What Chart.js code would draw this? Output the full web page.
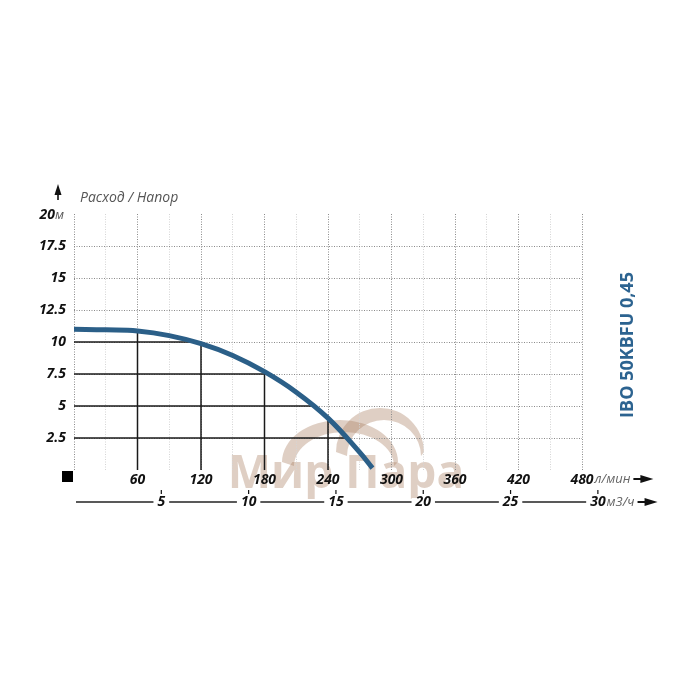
<!DOCTYPE html>
<html>
<head>
<meta charset="utf-8">
<script src="https://cdn.jsdelivr.net/npm/chart.js@4.4.1/dist/chart.umd.min.js"></script>
<style>
  html, body { margin: 0; padding: 0; background: #fff; }
  canvas { display: block; }
</style>
</head>
<body>
<canvas id="pumpChart" width="700" height="700"></canvas>
<script>
// pump curve, flow in l/min, head in m
const flowLpm = [0, 30, 60, 90, 120, 150, 180, 210, 240, 270, 282];
const headM = [11.0, 10.95, 10.86, 10.5, 9.87, 8.95, 7.68, 6.08, 4.05, 1.38, 0.15];

// solid lines under the curve
const dropFlow = [60, 120, 180, 240];
const dropHead = [10.86, 9.87, 7.68, 4.05];
const levelHead = [2.5, 5, 7.5, 10];
const levelFlow = [257, 228, 184, 112];

// tick labels
const lpmTicks = [60, 120, 180, 240, 300, 360, 420, 480];
const headTicks = [2.5, 5, 7.5, 10, 12.5, 15, 17.5];
const m3hTicks = [5, 10, 15, 20, 25, 30];
const m3hToLpm = 16.5;

const modelName = 'IBO 50KBFU 0,45';
const axisTitle = 'Расход / Напор';

const curveColor = '#2b5f88';
const tickFont = { family: 'Open Sans', size: 14, weight: 'bold', style: 'italic' };

function drawArrow(ctx, x, y) {
    ctx.strokeStyle = '#111';
    ctx.fillStyle = '#111';
    ctx.lineWidth = 2;
    ctx.beginPath();
    ctx.moveTo(x, y);
    ctx.lineTo(x + 10, y);
    ctx.stroke();
    ctx.beginPath();
    ctx.moveTo(x + 7, y - 4);
    ctx.lineTo(x + 20, y);
    ctx.lineTo(x + 7, y + 4);
    ctx.closePath();
    ctx.fill();
}

const watermark = {
    id: 'watermark',
    beforeDraw(chart) {
        const ctx = chart.ctx;
        ctx.save();
        ctx.fillStyle = 'rgba(170, 130, 100, 0.38)';
        // two arches
        ctx.beginPath();
        ctx.ellipse(340, 462, 58, 42, 0, Math.PI, 2 * Math.PI);
        ctx.ellipse(344, 466, 50, 34, 0, 2 * Math.PI, Math.PI, true);
        ctx.closePath();
        ctx.fill();
        ctx.beginPath();
        ctx.ellipse(380, 452, 44, 44, 0, Math.PI, 2 * Math.PI);
        ctx.ellipse(384, 456, 37, 36, 0, 2 * Math.PI, Math.PI, true);
        ctx.closePath();
        ctx.fill();
        ctx.font = 'bold 46px "Open Sans"';
        ctx.textAlign = 'center';
        ctx.textBaseline = 'alphabetic';
        ctx.fillText('Мир Пара', 346, 488);
        ctx.restore();
    }
};

const extras = {
    id: 'extras',
    afterDraw(chart) {
        const ctx = chart.ctx;
        const x = chart.scales.x;
        const y = chart.scales.y;
        const area = chart.chartArea;
        const bold = 'italic bold 14px "Open Sans"';
        const light = 'italic 13px "Open Sans"';
        ctx.save();

        // 20м at the top of the head axis
        ctx.textBaseline = 'middle';
        ctx.font = light;
        const wM = ctx.measureText('м').width;
        const y20 = y.getPixelForValue(20) + 1;
        ctx.fillStyle = '#555';
        ctx.textAlign = 'left';
        ctx.fillText('м', 64 - wM, y20);
        ctx.font = bold;
        ctx.fillStyle = '#111';
        ctx.textAlign = 'right';
        ctx.fillText('20', 64 - wM, y20);

        // head axis arrow and title
        ctx.fillStyle = '#111';
        ctx.beginPath();
        ctx.moveTo(58, 184);
        ctx.lineTo(54.5, 195);
        ctx.lineTo(61.5, 195);
        ctx.closePath();
        ctx.fill();
        ctx.fillRect(57.2, 194, 1.6, 6);
        ctx.font = 'italic 14px "Open Sans"';
        ctx.fillStyle = '#555';
        ctx.textAlign = 'left';
        ctx.fillText(axisTitle, 80, 198);

        // origin square
        ctx.fillStyle = '#000';
        ctx.fillRect(area.left - 12, area.bottom + 1, 11, 11);

        // l/min unit and arrow
        const row1 = area.bottom + 9;
        ctx.font = bold;
        const last = lpmTicks[lpmTicks.length - 1];
        let ux = x.getPixelForValue(last) + ctx.measureText(String(last)).width / 2 + 1;
        ctx.font = light;
        ctx.fillStyle = '#666';
        ctx.textAlign = 'left';
        ctx.fillText('л/мин', ux, row1);
        drawArrow(ctx, ux + ctx.measureText('л/мин').width + 3, row1);

        // m3/h axis
        const row2 = area.bottom + 32;
        const lastM = m3hTicks[m3hTicks.length - 1];
        ctx.font = bold;
        const lastPx = x.getPixelForValue(lastM * m3hToLpm);
        const lastW = ctx.measureText(String(lastM)).width;
        ctx.strokeStyle = '#222';
        ctx.lineWidth = 1.5;
        ctx.beginPath();
        ctx.moveTo(area.left + 2, row2);
        ctx.lineTo(lastPx - lastW / 2 - 3, row2);
        ctx.stroke();
        m3hTicks.forEach(v => {
            const px = x.getPixelForValue(v * m3hToLpm);
            const w = ctx.measureText(String(v)).width;
            ctx.fillStyle = '#fff';
            ctx.fillRect(px - w / 2 - 4, row2 - 4, w + 8, 8);
            ctx.fillStyle = '#111';
            ctx.textAlign = 'center';
            ctx.fillText(String(v), px, row2);
            ctx.fillRect(px - 0.6, row2 - 12, 1.2, 4);
        });
        ux = lastPx + lastW / 2 + 1;
        ctx.font = light;
        ctx.fillStyle = '#666';
        ctx.textAlign = 'left';
        ctx.fillText('м3/ч', ux, row2);
        drawArrow(ctx, ux + ctx.measureText('м3/ч').width + 3, row2);

        // model name on the right
        ctx.translate(628, 345);
        ctx.rotate(-Math.PI / 2);
        ctx.font = 'bold 18px "Open Sans"';
        ctx.fillStyle = '#2c6390';
        ctx.textAlign = 'center';
        ctx.fillText(modelName, 0, 0);
        ctx.restore();
    }
};

const guideLines = [];
dropFlow.forEach((q, i) => {
    guideLines.push({ data: [{ x: q, y: 0 }, { x: q, y: dropHead[i] }] });
});
levelHead.forEach((h, i) => {
    guideLines.push({ data: [{ x: 0, y: h }, { x: levelFlow[i], y: h }] });
});

new Chart(document.getElementById('pumpChart'), {
    type: 'line',
    data: {
        datasets: [
            {
                data: flowLpm.map((q, i) => ({ x: q, y: headM[i] })),
                borderColor: curveColor,
                borderWidth: 5,
                pointRadius: 0,
                tension: 0.4,
                borderCapStyle: 'butt'
            },
            ...guideLines.map(g => ({
                data: g.data,
                borderColor: '#1a1a1a',
                borderWidth: 1.5,
                pointRadius: 0
            }))
        ]
    },
    options: {
        responsive: false,
        animation: false,
        layout: { padding: { left: 0, top: 214, right: 118, bottom: 200 } },
        plugins: { legend: { display: false }, tooltip: { enabled: false } },
        scales: {
            x: {
                type: 'linear',
                min: 0,
                max: 480,
                afterFit: s => { s.height = 30; },
                border: { display: false, dash: [1, 1.5] },
                grid: {
                    drawTicks: false,
                    lineWidth: 1,
                    color: c => c.tick.value % 60 === 0 ? '#8a8a8a' : '#d4d4d4'
                },
                ticks: {
                    stepSize: 30,
                    autoSkip: false,
                    maxRotation: 0,
                    padding: 2,
                    color: '#111',
                    font: tickFont,
                    callback: v => lpmTicks.includes(v) ? String(v) : ''
                }
            },
            y: {
                min: 0,
                max: 20,
                afterFit: s => { s.width = 74; },
                border: { display: false, dash: [1, 1.5] },
                grid: {
                    drawTicks: false,
                    color: c => (c.tick.value > 0 && c.tick.value < 20) ? '#8a8a8a' : 'rgba(0,0,0,0)'
                },
                ticks: {
                    stepSize: 2.5,
                    autoSkip: false,
                    padding: 8,
                    color: '#111',
                    font: tickFont,
                    callback: v => headTicks.includes(v) ? String(v) : ''
                }
            }
        }
    },
    plugins: [watermark, extras]
});
</script>
</body>
</html>
